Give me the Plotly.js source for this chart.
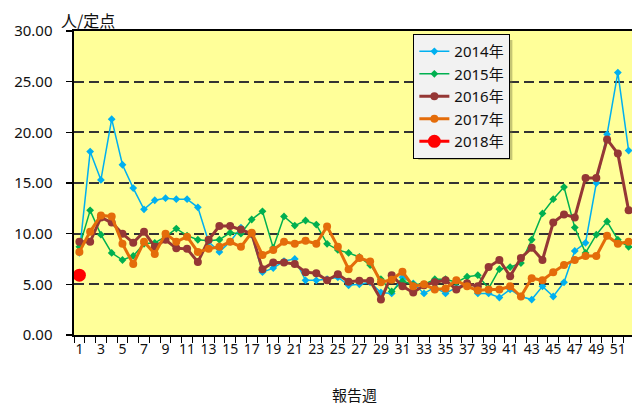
<!DOCTYPE html>
<html>
<head>
<meta charset="utf-8">
<script src="https://cdn.plot.ly/plotly-3.0.1.min.js"></script>
<style>html,body{margin:0;padding:0;overflow:hidden;background:#fff;}</style>
</head>
<body>
<div id="chart" style="width:634px;height:406px;"></div>
<script>
const weeks = Array.from({length: 52}, (_, i) => i + 1);
const seriesNames = ["2014年", "2015年", "2016年", "2017年", "2018年"];
const y2014 = [8.1,18.1,15.3,21.3,16.8,14.5,12.4,13.3,13.5,13.4,13.4,12.6,9.2,8.2,9.2,10.6,9.9,6.2,6.6,7.3,7.5,5.4,5.4,5.5,5.7,4.9,5.0,5.2,4.2,4.1,5.7,5.1,4.1,4.7,4.1,4.7,5.1,4.1,4.1,3.7,4.5,3.8,3.5,4.8,3.8,5.2,8.3,9.1,15.0,19.8,25.9,18.2];
const y2015 = [8.7,12.3,9.9,8.1,7.4,7.8,9.0,9.1,9.7,10.5,9.8,9.4,9.3,9.4,10.1,10.0,11.4,12.2,8.6,11.7,10.8,11.3,10.9,9.0,8.4,8.1,7.7,6.9,5.5,4.3,5.3,5.0,5.0,5.5,5.5,5.2,5.75,5.9,4.6,6.5,6.7,7.1,9.4,12.0,13.4,14.6,10.6,8.1,9.9,11.2,9.4,8.7];
const y2016 = [9.2,9.2,11.6,11.1,10.0,9.1,10.2,8.7,9.4,8.55,8.5,7.2,9.4,10.75,10.75,10.4,10.0,6.5,7.15,7.15,7.0,6.2,6.1,5.4,6.0,5.25,5.35,5.35,3.5,5.9,4.8,4.2,4.9,5.2,5.4,4.5,5.1,4.8,6.7,7.4,5.8,7.6,8.6,7.4,11.1,11.9,11.6,15.5,15.5,19.3,17.9,12.3];
const y2017 = [8.2,10.2,11.8,11.7,9.0,7.0,9.2,8.0,10.0,9.2,9.7,8.2,8.5,8.7,9.2,8.7,10.1,7.9,8.4,9.2,9.0,9.3,9.0,10.7,8.7,6.5,7.6,7.25,5.2,5.45,6.25,4.8,5.0,4.5,4.6,5.4,4.8,4.4,4.5,4.5,4.8,3.8,5.6,5.4,6.2,6.9,7.4,7.8,7.8,9.8,9.0,9.2];
const y2018 = [5.9];
const yTicks = [0, 5, 10, 15, 20, 25, 30];
const xTickVals = weeks.filter(w => w % 2 === 1);

const numFont = "Noto Sans, Noto Sans CJK JP, sans-serif";
const jpFont = "Noto Sans CJK JP, Noto Sans, sans-serif";

const traces = [
  {x: weeks, y: y2014, name: seriesNames[0], mode: 'lines+markers', legendgroup:'a',
   line: {color: '#00b0f0', width: 1.5}, marker: {symbol: 'diamond', size: 6, color: '#00b0f0'}},
  {x: weeks, y: y2015, name: seriesNames[1], mode: 'lines+markers', legendgroup:'b',
   line: {color: '#00b050', width: 1.5}, marker: {symbol: 'diamond', size: 6, color: '#00b050'}},
  {x: weeks, y: y2016, name: seriesNames[2], mode: 'lines+markers', legendgroup:'c',
   line: {color: '#953735', width: 3}, marker: {symbol: 'circle', size: 8, color: '#953735'}},
  {x: weeks, y: y2017, name: seriesNames[3], mode: 'lines+markers', legendgroup:'d',
   line: {color: '#e46c0a', width: 3}, marker: {symbol: 'circle', size: 8, color: '#e46c0a'}},
  {x: weeks.slice(0, y2018.length), y: y2018, name: seriesNames[4], mode: 'lines+markers', legendgroup:'e',
   line: {color: '#ff0000', width: 3}, marker: {symbol: 'circle', size: 13, color: '#ff0000'}}
];

const layout = {
  width: 634, height: 406,
  margin: {l: 74, r: 0, t: 31, b: 71},
  paper_bgcolor: '#ffffff',
  plot_bgcolor: '#ffff99',
  showlegend: true,
  legend: {
    x: 0.606, y: 0.99, xanchor: 'left', yanchor: 'top',
    bgcolor: '#f2f2f2', bordercolor: '#000', borderwidth: 1,
    font: {family: numFont, size: 15, color: '#111'},
    tracegroupgap: 0, itemwidth: 30
  },
  xaxis: {
    range: [0.5, 52.5], tickmode: 'array', tickvals: xTickVals, ticktext: xTickVals.map(String),
    ticks: '', showgrid: false, zeroline: false,
    showline: true, linecolor: '#000', linewidth: 2, mirror: true,
    tickfont: {family: numFont, size: 14, color: '#111'},
    minor: {tick0: 0.5, dtick: 1, ticks: 'outside', ticklen: 6, tickcolor: '#000', tickwidth: 1, showgrid: false},
    fixedrange: true
  },
  yaxis: {
    range: [0, 30], tickmode: 'array', tickvals: yTicks, tickformat: '.2f',
    ticks: 'outside', ticklen: 6, tickcolor: '#000', tickwidth: 1.5,
    ticklabelstandoff: 10,
    showgrid: true, gridcolor: '#333', gridwidth: 2, griddash: '10px,5px',
    zeroline: false, showline: true, linecolor: '#000', linewidth: 2.5,
    tickfont: {family: numFont, size: 15, color: '#111'},
    fixedrange: true
  },
  shapes: [
    {type: 'rect', xref: 'paper', yref: 'paper', x0: 0.6148, x1: 0.7828, y0: 0.5757, y1: 0.9704,
     fillcolor: 'rgba(110,110,60,0.4)', line: {width: 0}, layer: 'above'}
  ],
  annotations: [
    {text: '人/定点', xref: 'paper', yref: 'paper', x: -0.027, y: 1.036, xanchor: 'left', yanchor: 'middle',
     showarrow: false, font: {family: jpFont, size: 16, color: '#111'}},
    {text: '報告週', xref: 'paper', yref: 'paper', x: 0.5, y: -0.197, xanchor: 'center', yanchor: 'middle',
     showarrow: false, font: {family: jpFont, size: 15, color: '#111'}}
  ]
};

Plotly.newPlot('chart', traces, layout, {displayModeBar: false, staticPlot: true});
</script>
</body>
</html>
